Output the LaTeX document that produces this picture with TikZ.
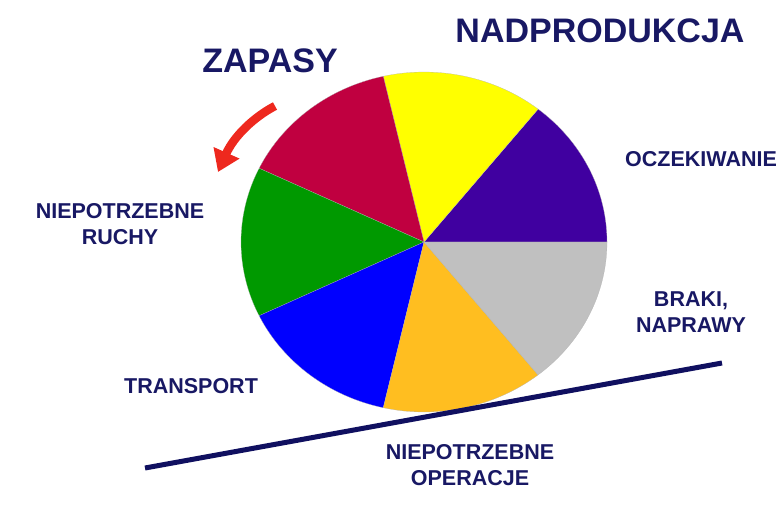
\documentclass[tikz,border=0pt]{standalone}
\usepackage{fontspec}
\setmainfont{Liberation Sans}
\usetikzlibrary{arrows.meta}

\definecolor{navytext}{RGB}{24,24,100}
\definecolor{navyline}{RGB}{16,16,96}
\definecolor{arrowred}{RGB}{238,40,30}
\definecolor{pieviolet}{RGB}{64,0,160}
\definecolor{pieyellow}{RGB}{255,255,0}
\definecolor{piecrimson}{RGB}{192,0,64}
\definecolor{piegreen}{RGB}{0,153,0}
\definecolor{pieblue}{RGB}{0,0,255}
\definecolor{pieorange}{RGB}{255,190,32}
\definecolor{piegray}{RGB}{192,192,192}

\tikzset{
  bigtitle/.style = {font=\bfseries\fontsize{34}{40}\selectfont, text=navytext, inner sep=0pt},
  waste/.style = {font=\bfseries\fontsize{21.5}{26}\selectfont, text=navytext, align=center, inner sep=0pt}
}

\begin{document}
\begin{tikzpicture}[x = 1pt, y = -1pt]
        \useasboundingbox (0, 0) rectangle (784, 504);
        \coordinate (c) at (424, 242);

        % pie of the seven wastes
        \foreach \a/\col in {0/pieviolet, 51.43/pieyellow, 102.86/piecrimson, 154.29/piegreen,
                             205.71/pieblue, 257.14/pieorange, 308.57/piegray}
          \filldraw[fill = \col, draw = gray!60, very thin] (c) -- ++(-\a:183 and 170)
            arc[start angle = -\a, end angle = -\a-51.43, x radius = 183, y radius = 170] -- cycle;

        % ground line
        \coordinate (groundL) at (145, 468);
        \coordinate (groundR) at (722, 363);
        \draw[navyline, line width = 5pt] (groundL) -- (groundR);

        % turning arrow
        \coordinate (turnS) at (275, 106);
        \coordinate (turnE) at (218, 172);
        \draw[arrowred, line width = 8.5pt, -{Triangle[length = 21pt, width = 27pt]}]
          (turnS) .. controls (254, 117) and (234, 136) .. (turnE);

        \node[bigtitle] (nadprod) at (600, 31) {NADPRODUKCJA};
        \node[bigtitle] (zapasy) at (270, 61) {ZAPASY};
        \node[waste] (oczek) at (701, 159) {OCZEKIWANIE};
        \node[waste] (ruchy) at (120, 224) {NIEPOTRZEBNE\\RUCHY};
        \node[waste] (braki) at (691, 312) {BRAKI,\\NAPRAWY};
        \node[waste] (transport) at (191, 386) {TRANSPORT};
        \node[waste] (operacje) at (470, 465) {NIEPOTRZEBNE\\OPERACJE};
      \end{tikzpicture}
\end{document}
